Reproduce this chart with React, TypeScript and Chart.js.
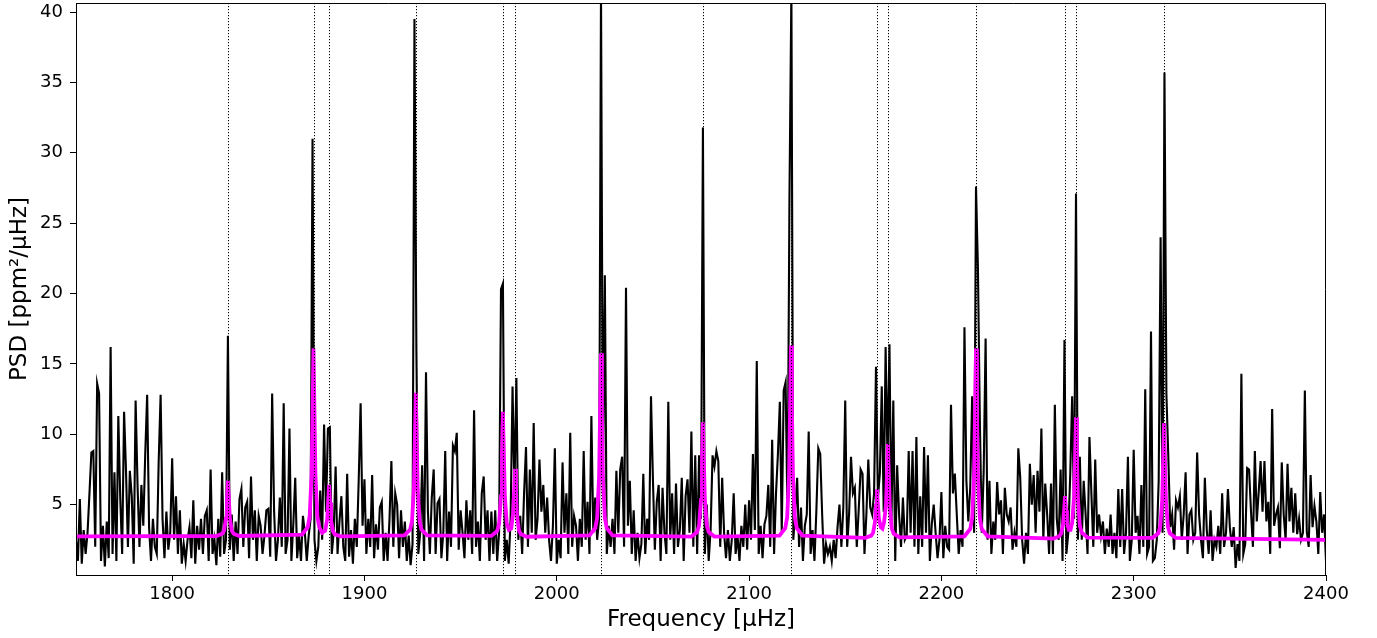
import React, { useEffect, useRef } from "react";
import { Chart, registerables } from "chart.js";

Chart.register(...registerables);

// Power spectrum: PSD values on a uniform frequency grid (μHz)
const FREQ_START = 1750;
const FREQ_STEP = 1;
const PSD = [
  2.5, 1.0, 5.4, 0.8, 3.2, 1.5, 3.0, 5.8, 8.7, 8.8, // 1750
  2.0, 13.6, 12.9, 1.0, 3.5, 0.6, 3.8, 1.2, 16.2, 1.5, // 1760
  7.3, 1.0, 11.3, 5.5, 1.5, 11.6, 7.4, 2.0, 7.4, 5.6, // 1770
  0.8, 12.4, 6.4, 2.0, 6.4, 3.5, 8.6, 12.8, 3.4, 1.0, // 1780
  4.0, 2.0, 1.5, 8.1, 12.8, 4.0, 1.2, 4.5, 1.8, 3.0, // 1790
  8.3, 2.5, 5.6, 1.5, 4.6, 0.8, 2.2, 1.0, 2.5, 3.4, // 1800
  1.2, 5.3, 0.8, 3.5, 1.8, 4.0, 1.5, 4.2, 4.6, 1.0, // 1810
  7.5, 1.5, 2.5, 0.7, 4.0, 1.3, 7.3, 1.5, 2.5, 17.0, // 1820
  1.8, 4.3, 1.0, 3.8, 1.5, 5.4, 6.1, 2.0, 4.8, 5.2, // 1830
  1.2, 7.0, 2.5, 4.6, 1.0, 4.2, 3.5, 1.5, 2.8, 4.6, // 1840
  4.7, 1.3, 12.9, 4.6, 1.0, 2.5, 5.5, 2.0, 12.2, 1.5, // 1850
  2.5, 10.4, 1.0, 3.6, 6.9, 1.2, 2.8, 1.0, 4.2, 3.0, // 1860
  1.0, 2.8, 4.0, 31.0, 2.5, 1.0, 2.0, 6.0, 2.5, 10.7, // 1870
  4.5, 10.4, 10.5, 1.5, 3.0, 7.7, 1.5, 3.8, 5.6, 2.0, // 1880
  1.0, 7.2, 1.3, 3.2, 0.8, 4.0, 2.0, 6.7, 12.2, 3.5, // 1890
  6.8, 1.5, 4.0, 2.0, 7.1, 1.2, 3.6, 1.8, 4.8, 5.2, // 1900
  1.0, 3.0, 1.0, 3.9, 8.1, 2.0, 5.8, 5.0, 1.2, 4.6, // 1910
  2.0, 3.8, 1.0, 2.8, 0.7, 2.2, 39.5, 16.1, 1.5, 3.0, // 1920
  7.8, 1.0, 14.4, 4.5, 1.5, 5.5, 7.5, 1.5, 5.1, 5.4, // 1930
  1.2, 3.0, 8.8, 1.0, 4.5, 2.0, 9.2, 8.8, 10.1, 1.8, // 1940
  4.6, 3.0, 1.2, 5.3, 2.5, 4.6, 1.5, 11.7, 2.0, 3.8, // 1950
  1.0, 5.8, 7.0, 2.5, 4.6, 1.0, 4.5, 1.5, 4.6, 1.0, // 1960
  3.0, 20.3, 20.7, 1.0, 2.5, 0.8, 4.0, 13.4, 6.0, 14.0, // 1970
  2.5, 4.2, 1.5, 5.8, 9.1, 2.0, 7.5, 3.0, 10.8, 2.5, // 1980
  4.0, 8.2, 4.5, 6.4, 3.0, 5.5, 2.5, 1.0, 3.5, 9.0, // 1990
  0.8, 2.5, 1.2, 8.0, 3.0, 5.8, 1.5, 10.1, 2.0, 4.2, // 2000
  3.5, 1.0, 4.0, 2.0, 8.8, 2.5, 5.2, 1.5, 11.3, 3.0, // 2010
  5.5, 2.5, 4.0, 41.5, 7.0, 21.3, 1.5, 3.5, 2.0, 4.0, // 2020
  1.5, 7.4, 3.0, 7.5, 8.4, 2.0, 20.4, 3.5, 6.7, 1.5, // 2030
  4.6, 1.0, 3.0, 1.2, 2.2, 7.2, 1.5, 4.0, 2.5, 12.7, // 2040
  6.8, 1.8, 5.2, 6.4, 1.0, 6.2, 3.0, 1.5, 12.3, 2.5, // 2050
  5.8, 1.5, 6.5, 2.0, 3.2, 6.9, 1.0, 5.6, 6.8, 3.0, // 2060
  10.2, 2.0, 8.5, 1.5, 8.5, 4.0, 31.8, 1.5, 5.0, 1.0, // 2070
  3.2, 8.5, 7.7, 8.8, 8.1, 2.0, 6.9, 3.0, 1.2, 3.2, // 2080
  1.0, 2.5, 5.8, 1.5, 2.8, 1.0, 3.5, 2.0, 5.0, 1.8, // 2090
  5.3, 2.5, 8.6, 3.2, 15.2, 1.5, 3.5, 1.2, 3.6, 4.2, // 2100
  6.4, 2.0, 9.6, 1.5, 5.8, 8.6, 12.3, 3.0, 13.1, 13.7, // 2110
  4.0, 26.9, 41.5, 2.5, 4.5, 6.9, 2.0, 4.8, 1.0, 3.5, // 2120
  4.3, 10.2, 1.5, 3.2, 1.0, 4.6, 9.0, 8.6, 4.3, 0.8, // 2130
  2.2, 1.5, 2.0, 1.0, 2.5, 1.2, 3.4, 5.0, 2.0, 4.8, // 2140
  12.4, 2.0, 4.3, 8.4, 5.8, 6.2, 2.0, 4.6, 7.5, 7.2, // 2150
  1.5, 4.3, 8.2, 4.8, 4.3, 5.8, 14.8, 5.5, 7.2, 13.4, // 2160
  4.5, 16.2, 8.0, 16.4, 3.5, 12.4, 1.0, 7.8, 4.3, 2.0, // 2170
  5.5, 2.5, 2.8, 8.8, 3.0, 8.8, 2.0, 9.8, 1.5, 5.6, // 2180
  2.0, 9.1, 3.0, 8.5, 1.0, 3.6, 5.0, 3.0, 1.2, 2.5, // 2190
  5.9, 1.2, 3.5, 2.0, 1.8, 12.1, 5.8, 7.2, 4.3, 1.5, // 2200
  3.2, 2.0, 17.6, 6.7, 3.8, 6.2, 12.7, 3.0, 27.6, 21.8, // 2210
  11.0, 3.0, 7.4, 16.8, 2.5, 6.7, 1.5, 3.8, 2.5, 6.6, // 2220
  4.3, 5.3, 1.5, 6.2, 4.3, 3.8, 4.8, 1.8, 3.0, 2.0, // 2230
  9.0, 6.9, 2.5, 0.8, 3.0, 1.5, 7.9, 5.0, 7.1, 3.0, // 2240
  7.4, 4.5, 10.4, 2.5, 6.5, 4.3, 1.5, 6.5, 1.5, 12.1, // 2250
  4.0, 2.5, 7.5, 1.0, 16.7, 1.5, 3.0, 7.1, 12.7, 4.0, // 2260
  27.1, 2.5, 8.4, 2.5, 6.7, 4.3, 1.5, 9.8, 5.8, 2.0, // 2270
  8.2, 3.0, 4.3, 2.8, 3.8, 1.5, 3.3, 2.0, 4.3, 1.5, // 2280
  3.0, 1.2, 6.1, 2.0, 6.1, 1.5, 3.0, 8.4, 1.0, 2.5, // 2290
  8.9, 3.0, 4.2, 1.5, 6.4, 2.0, 13.2, 1.5, 2.0, 17.3, // 2300
  1.0, 1.2, 2.5, 6.7, 24.0, 3.0, 35.7, 12.9, 8.4, 3.4, // 2310
  4.3, 1.8, 5.3, 4.8, 5.6, 2.5, 4.3, 7.3, 1.5, 4.3, // 2320
  4.6, 2.5, 3.0, 8.7, 4.3, 2.5, 1.2, 6.9, 3.2, 1.5, // 2330
  4.6, 1.0, 2.5, 2.0, 3.5, 1.5, 5.8, 2.0, 3.0, 6.1, // 2340
  3.4, 2.0, 3.4, 0.5, 2.2, 1.0, 14.3, 1.5, 2.2, 7.6, // 2350
  7.5, 4.5, 2.0, 8.8, 3.8, 5.9, 8.1, 4.5, 8.1, 3.8, // 2360
  5.2, 1.5, 11.8, 3.5, 4.3, 4.8, 1.9, 8.0, 4.3, 2.5, // 2370
  7.9, 3.8, 6.2, 3.0, 5.8, 2.9, 4.0, 2.5, 3.0, 13.1, // 2380
  3.1, 2.0, 7.1, 3.4, 4.9, 3.8, 1.5, 5.9, 3.0, 4.3, // 2390
  1.0, // 2400
];

// Fitted model curve (magenta), sampled points
const MODEL_FREQ = [
  1750,
  1823, 1826, 1827, 1828, 1828.5, 1829, 1829.5, 1830, 1831, 1832, 1835,
  1867.5, 1870.5, 1871.5, 1872.5, 1873, 1873.5, 1874, 1874.5, 1875.5, 1876.5, 1878,
  1879.6, 1880.6, 1881.1, 1881.6, 1882.1, 1882.6, 1883.6, 1884.6, 1887.6,
  1920.7, 1923.7, 1924.7, 1925.7, 1926.2, 1926.7, 1927.2, 1927.7, 1928.7, 1929.7, 1932.7,
  1966, 1969, 1970, 1971, 1971.5, 1972, 1972.5, 1973, 1974, 1975.1,
  1976.3, 1977.3, 1977.8, 1978.3, 1978.8, 1979.3, 1980.3, 1981.3, 1984.3,
  2017, 2020, 2021, 2022, 2022.5, 2023, 2023.5, 2024, 2025, 2026, 2029,
  2070, 2073, 2074, 2075, 2075.5, 2076, 2076.5, 2077, 2078, 2079, 2082,
  2115.8, 2118.8, 2119.8, 2120.8, 2121.3, 2121.8, 2122.3, 2122.8, 2123.8, 2124.8, 2127.8,
  2160.5, 2163.5, 2164.5, 2165.5, 2166, 2166.5, 2167, 2167.5, 2168.5, 2169.35,
  2170.2, 2171.2, 2171.7, 2172.2, 2172.7, 2173.2, 2174.2, 2175.2, 2178.2,
  2212, 2215, 2216, 2217, 2217.5, 2218, 2218.5, 2219, 2220, 2221, 2224,
  2258.3, 2261.3, 2262.3, 2263.3, 2263.8, 2264.3, 2264.8, 2265.3, 2266.3, 2267.15,
  2268, 2269, 2269.5, 2270, 2270.5, 2271, 2272, 2273, 2276,
  2309.8, 2312.8, 2313.8, 2314.8, 2315.3, 2315.8, 2316.3, 2316.8, 2317.8, 2318.8, 2321.8,
  2400,
];
const MODEL_PSD = [
  2.75,
  2.77, 2.93, 3.15, 4.03, 5.35, 6.7, 5.35, 4.03, 3.15, 2.93, 2.77,
  2.87, 3.4, 4.16, 7.11, 11.54, 16.1, 11.54, 7.11, 4.16, 3.4, 3.0,
  3.15, 3.95, 5.15, 6.4, 5.15, 3.92, 3.1, 2.89, 2.75,
  2.81, 3.21, 3.8, 6.06, 9.46, 12.95, 9.46, 6.06, 3.8, 3.21, 2.81,
  2.78, 3.12, 3.63, 5.6, 8.56, 11.6, 8.56, 5.6, 3.7, 3.2,
  3.3, 4.35, 5.9, 7.55, 5.89, 4.27, 3.19, 2.91, 2.72,
  2.81, 3.32, 4.07, 6.95, 11.29, 15.75, 11.29, 6.95, 4.07, 3.32, 2.81,
  2.73, 3.05, 3.52, 5.33, 8.05, 10.85, 8.05, 5.33, 3.52, 3.05, 2.73,
  2.79, 3.32, 4.1, 7.11, 11.65, 16.3, 11.65, 7.11, 4.1, 3.32, 2.79,
  2.64, 2.8, 3.0, 3.8, 4.95, 6.1, 5.0, 4.0, 3.4, 3.3,
  3.75, 4.95, 7.1, 9.3, 7.02, 4.8, 3.32, 2.94, 2.68,
  2.75, 3.27, 4.04, 7.02, 11.5, 16.1, 11.5, 7.02, 4.04, 3.27, 2.75,
  2.59, 2.75, 2.95, 3.6, 4.6, 5.6, 4.6, 3.7, 3.2, 3.2,
  3.7, 5.55, 8.3, 11.2, 8.26, 5.4, 3.49, 3.0, 2.66,
  2.64, 2.96, 3.43, 5.25, 7.99, 10.8, 7.99, 5.25, 3.43, 2.96, 2.64,
  2.5,
];

// Mode frequencies (dotted vertical lines)
const MODE_FREQ = [
  1829.0, 1873.5, 1881.6, 1926.7, 1972.0, 1978.3, 2023.0, 2076.0,
  2121.8, 2166.5, 2172.2, 2218.0, 2264.3, 2270.0, 2315.8,
];

const X_TICKS = [1800, 1900, 2000, 2100, 2200, 2300, 2400];
const Y_TICKS = [5, 10, 15, 20, 25, 30, 35, 40];

const FONT = "'DejaVu Sans', sans-serif";

const overlayPlugin = {
  id: "modesAndFrame",
  afterDatasetsDraw(chart: any) {
    const { ctx, chartArea, scales } = chart;
    const { left, right, top, bottom } = chartArea;
    const x = scales.x;
    ctx.save();
    ctx.strokeStyle = "#000";
    ctx.lineWidth = 1;
    ctx.setLineDash([1.2, 1.8]);
    ctx.beginPath();
    MODE_FREQ.forEach((f) => {
      const px = Math.round(x.getPixelForValue(f)) + 0.5;
      ctx.moveTo(px, top);
      ctx.lineTo(px, bottom);
    });
    ctx.stroke();
    ctx.setLineDash([]);
    ctx.beginPath();
    ctx.rect(left + 0.5, top + 0.5, right - left - 1, bottom - top);
    ctx.stroke();
    ctx.restore();
  },
};

export default function App() {
  const canvasRef = useRef<HTMLCanvasElement | null>(null);

  useEffect(() => {
    if (!canvasRef.current) return;
    const blackData = PSD.map((y, i) => ({ x: FREQ_START + i * FREQ_STEP, y }));
    const modelData = MODEL_FREQ.map((f, i) => ({ x: f, y: MODEL_PSD[i] }));

    const chart = new Chart(canvasRef.current, {
      type: "line",
      data: {
        datasets: [
          {
            label: "model",
            data: modelData,
            borderColor: "#ff00ff",
            borderWidth: 3.8,
            pointRadius: 0,
            tension: 0,
            order: 0,
            clip: 0,
          } as any,
          {
            label: "PSD",
            data: blackData,
            borderColor: "#000000",
            borderWidth: 2.1,
            pointRadius: 0,
            tension: 0,
            order: 1,
            clip: 0,
          } as any,
        ],
      },
      options: {
        responsive: false,
        animation: false,
        devicePixelRatio: 1,
        layout: { padding: { top: 3, right: 51, left: 0, bottom: 0 } },
        plugins: {
          legend: { display: false },
          tooltip: { enabled: false },
        },
        scales: {
          x: {
            type: "linear",
            min: 1750,
            max: 2400,
            afterBuildTicks: (s: any) => {
              s.ticks = X_TICKS.map((v) => ({ value: v }));
            },
            afterFit: (s: any) => {
              s.height = 63;
              s.paddingLeft = 0;
              s.paddingRight = 0;
            },
            ticks: {
              autoSkip: false,
              maxRotation: 0,
              color: "#000",
              padding: 3,
              font: { family: FONT, size: 18 },
              callback: (v: any) => String(v),
            },
            grid: {
              drawOnChartArea: false,
              drawTicks: true,
              tickLength: 6,
              color: "#000",
              lineWidth: 1,
            },
            border: { display: true, color: "#000", width: 1 },
            title: {
              display: true,
              text: "Frequency [μHz]",
              color: "#000",
              font: { family: FONT, size: 23 },
              padding: { top: 0, bottom: 4 },
            },
          },
          y: {
            type: "linear",
            min: 0,
            max: 40.64,
            afterBuildTicks: (s: any) => {
              s.ticks = Y_TICKS.map((v) => ({ value: v }));
            },
            afterFit: (s: any) => {
              s.width = 76;
              s.paddingTop = 0;
              s.paddingBottom = 0;
            },
            ticks: {
              autoSkip: false,
              color: "#000",
              padding: 7,
              font: { family: FONT, size: 18 },
              callback: (v: any) => String(v),
            },
            grid: {
              drawOnChartArea: false,
              drawTicks: true,
              tickLength: 6,
              color: "#000",
              lineWidth: 1,
            },
            border: { display: true, color: "#000", width: 1 },
            title: {
              display: true,
              text: "PSD [ppm²/μHz]",
              color: "#000",
              font: { family: FONT, size: 23 },
              padding: { top: 6, bottom: 0 },
            },
          },
        },
      },
      plugins: [overlayPlugin],
    });

    return () => chart.destroy();
  }, []);

  return (
    <div
      style={{
        position: "absolute",
        left: 0,
        top: 0,
        width: 1377,
        height: 638,
        background: "#fff",
      }}
    >
      <canvas ref={canvasRef} width={1377} height={638} />
    </div>
  );
}
